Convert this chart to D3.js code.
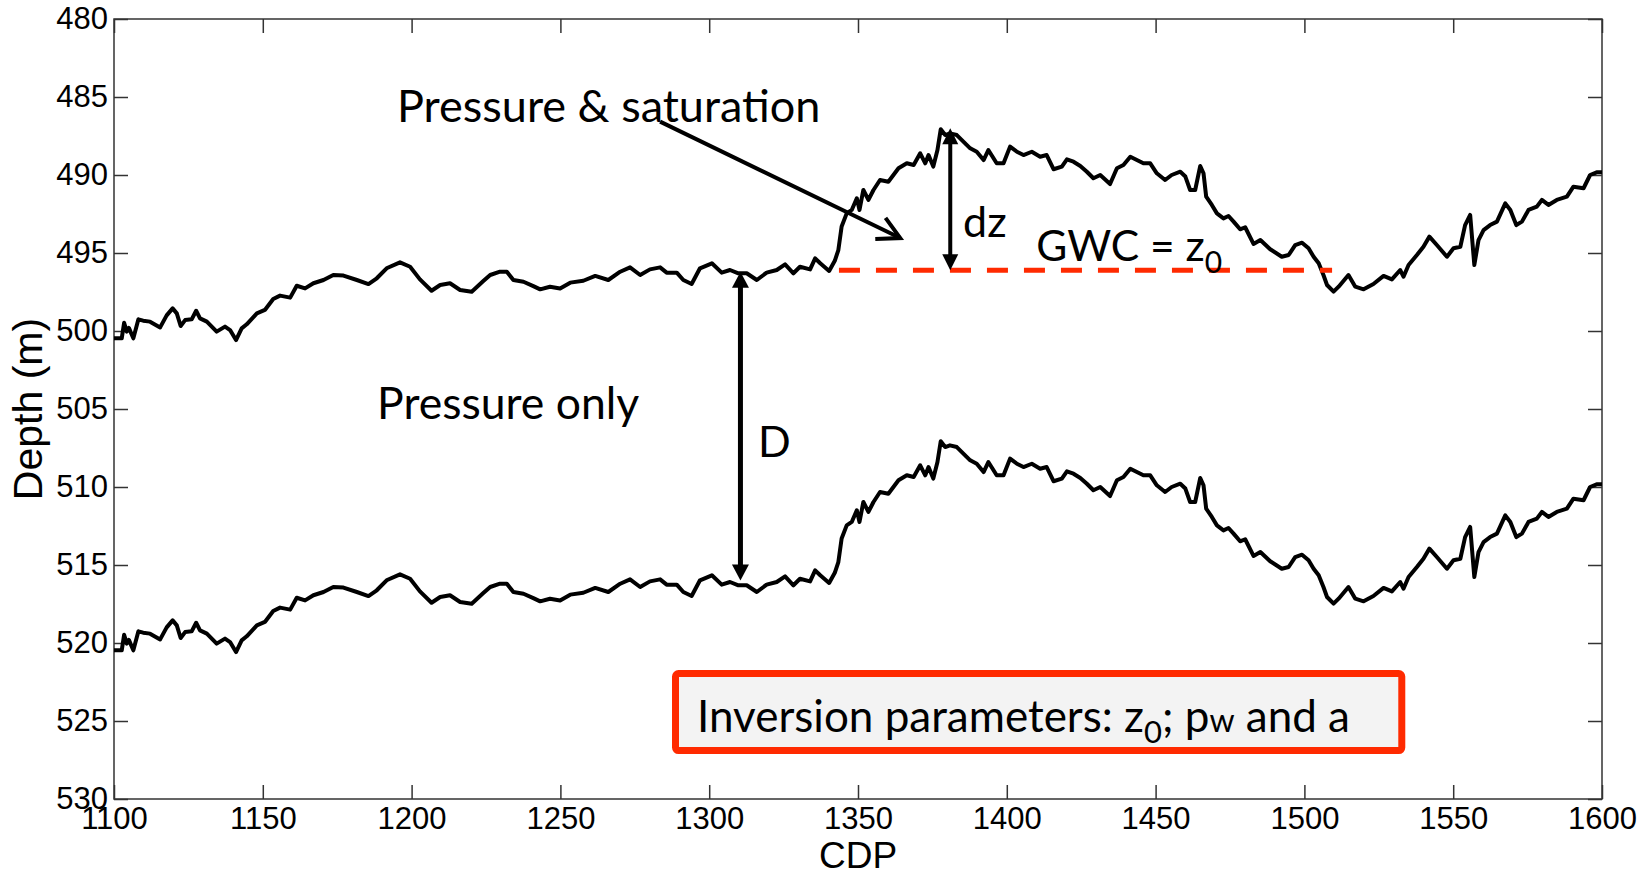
<!DOCTYPE html>
<html>
<head>
<meta charset="utf-8">
<script src="https://cdn.jsdelivr.net/npm/d3@7"></script>
<style>
  body { margin: 0; background: #fff; }
  .axis text { font-family: "Liberation Sans", Arial, sans-serif; font-size: 31px; fill: #000; }
  .axis line { stroke: #333; stroke-width: 1.5; }
  .axis-title { font-family: "Liberation Sans", Arial, sans-serif; font-size: 41px; fill: #000; }
  .note { font-family: Lato, "Open Sans", sans-serif; fill: #000; }
</style>
</head>
<body>
<div id="chart"></div>
<script>
'use strict';

// CDP positions of the picked horizon samples
var cdp = [
    1100.0, 1102.6, 1103.4, 1104.3, 1105.0, 1106.5, 1108.2, 1109.8, 1112.1, 1115.5,
    1117.7, 1119.7, 1121.1, 1122.4, 1123.9, 1126.1, 1127.6, 1128.9, 1131.2, 1134.5,
    1137.3, 1139.0, 1141.0, 1142.9, 1144.6, 1148.0, 1150.7, 1153.5, 1155.8, 1159.2,
    1161.4, 1164.2, 1167.0, 1170.4, 1173.7, 1177.1, 1181.6, 1185.5, 1188.3, 1191.6,
    1196.1, 1199.5, 1202.8, 1206.7, 1209.6, 1212.9, 1216.3, 1220.2, 1224.1, 1226.4,
    1229.7, 1232.0, 1234.2, 1237.6, 1240.9, 1243.2, 1246.5, 1249.9, 1253.3, 1257.7,
    1261.7, 1266.1, 1270.1, 1273.4, 1276.8, 1280.1, 1283.5, 1285.7, 1289.1, 1291.3,
    1294.1, 1296.9, 1300.9, 1304.2, 1307.0, 1309.8, 1312.6, 1316.0, 1319.3, 1322.7,
    1325.5, 1328.3, 1330.5, 1333.9, 1335.6, 1337.3, 1340.3, 1342.2, 1343.4, 1344.5,
    1346.2, 1347.9, 1349.6, 1350.5, 1351.8, 1353.5, 1355.2, 1357.4, 1360.2, 1363.6,
    1366.4, 1368.7, 1370.9, 1372.6, 1373.7, 1375.3, 1376.7, 1377.8, 1379.3, 1380.9,
    1383.2, 1384.9, 1387.7, 1389.9, 1392.2, 1393.8, 1396.6, 1398.9, 1401.1, 1403.4,
    1405.6, 1408.4, 1411.2, 1413.4, 1415.7, 1418.5, 1420.2, 1422.4, 1424.7, 1426.9,
    1429.1, 1431.4, 1434.7, 1437.0, 1439.2, 1441.5, 1443.7, 1445.9, 1448.2, 1450.4,
    1453.2, 1455.4, 1458.3, 1460.0, 1461.6, 1463.3, 1465.0, 1466.1, 1467.0, 1468.9,
    1470.6, 1472.8, 1474.5, 1476.2, 1478.4, 1480.1, 1482.9, 1485.2, 1488.5, 1492.4,
    1494.7, 1496.9, 1499.2, 1501.4, 1503.1, 1504.8, 1506.4, 1507.6, 1509.8, 1511.5,
    1514.8, 1517.1, 1519.9, 1523.2, 1526.6, 1529.4, 1532.2, 1533.3, 1535.0, 1537.8,
    1540.0, 1542.0, 1544.5, 1547.9, 1550.1, 1552.4, 1554.0, 1555.7, 1557.1, 1558.5,
    1560.2, 1562.4, 1564.7, 1567.5, 1569.2, 1571.2, 1573.1, 1575.3, 1578.1, 1579.8,
    1582.0, 1584.8, 1588.2, 1590.4, 1593.8, 1596.0, 1598.2, 1600.0
];

// reservoir top (m)
var topDepth = [
    500.47, 500.47, 499.47, 500.04, 499.80, 500.47, 499.25, 499.34, 499.40, 499.77,
    499.00, 498.55, 498.87, 499.68, 499.30, 499.25, 498.70, 499.19, 499.40, 500.04,
    499.72, 499.94, 500.58, 499.83, 499.57, 498.87, 498.65, 497.95, 497.73, 497.86,
    497.10, 497.27, 496.94, 496.73, 496.41, 496.45, 496.73, 496.99, 496.62, 495.98,
    495.60, 495.88, 496.69, 497.42, 497.05, 496.94, 497.37, 497.48, 496.80, 496.41,
    496.20, 496.20, 496.73, 496.84, 497.12, 497.33, 497.16, 497.27, 496.90, 496.78,
    496.47, 496.73, 496.20, 495.92, 496.41, 496.05, 495.92, 496.26, 496.26, 496.73,
    496.99, 495.98, 495.66, 496.26, 496.09, 496.30, 496.30, 496.73, 496.26, 496.09,
    495.73, 496.30, 495.88, 496.05, 495.34, 495.66, 496.15, 495.50, 494.81, 493.30,
    492.46, 492.24, 491.49, 492.24, 490.96, 491.60, 490.96, 490.32, 490.43, 489.57,
    489.25, 489.36, 488.61, 489.25, 488.72, 489.46, 488.40, 487.07, 487.44, 487.33,
    487.44, 487.76, 488.29, 488.51, 489.04, 488.40, 489.25, 489.25, 488.18, 488.51,
    488.72, 488.51, 488.83, 488.72, 489.63, 489.46, 489.00, 489.15, 489.42, 489.79,
    490.21, 490.00, 490.58, 489.57, 489.36, 488.83, 489.04, 489.25, 489.25, 489.89,
    490.32, 490.00, 489.79, 490.10, 490.96, 490.96, 489.42, 489.89, 491.39, 491.92,
    492.46, 492.78, 492.63, 492.99, 493.48, 493.35, 494.42, 494.17, 494.76, 495.24,
    495.13, 494.49, 494.34, 494.70, 495.24, 495.66, 496.41, 497.05, 497.48, 497.16,
    496.41, 497.16, 497.33, 496.99, 496.47, 496.69, 496.09, 496.52, 495.77, 495.13,
    494.60, 493.95, 494.49, 495.24, 494.70, 494.60, 493.21, 492.56, 495.77, 494.17,
    493.53, 493.21, 492.99, 491.82, 492.24, 493.21, 492.99, 492.24, 492.03, 491.60,
    491.92, 491.60, 491.39, 490.75, 490.85, 490.00, 489.83, 489.83
];

// reservoir base (m)
var baseDepth = [
    520.47, 520.47, 519.47, 520.04, 519.80, 520.47, 519.25, 519.34, 519.40, 519.77,
    519.00, 518.55, 518.87, 519.68, 519.30, 519.25, 518.70, 519.19, 519.40, 520.04,
    519.72, 519.94, 520.58, 519.83, 519.57, 518.87, 518.65, 517.95, 517.73, 517.86,
    517.10, 517.27, 516.94, 516.73, 516.41, 516.45, 516.73, 516.99, 516.62, 515.98,
    515.60, 515.88, 516.69, 517.42, 517.05, 516.94, 517.37, 517.48, 516.80, 516.41,
    516.20, 516.20, 516.73, 516.84, 517.12, 517.33, 517.16, 517.27, 516.90, 516.78,
    516.47, 516.73, 516.20, 515.92, 516.41, 516.05, 515.92, 516.26, 516.26, 516.73,
    516.99, 515.98, 515.66, 516.26, 516.09, 516.30, 516.30, 516.73, 516.26, 516.09,
    515.73, 516.30, 515.88, 516.05, 515.34, 515.66, 516.15, 515.50, 514.81, 513.30,
    512.46, 512.24, 511.49, 512.24, 510.96, 511.60, 510.96, 510.32, 510.43, 509.57,
    509.25, 509.36, 508.61, 509.25, 508.72, 509.46, 508.40, 507.07, 507.44, 507.33,
    507.44, 507.76, 508.29, 508.51, 509.04, 508.40, 509.25, 509.25, 508.18, 508.51,
    508.72, 508.51, 508.83, 508.72, 509.63, 509.46, 509.00, 509.15, 509.42, 509.79,
    510.21, 510.00, 510.58, 509.57, 509.36, 508.83, 509.04, 509.25, 509.25, 509.89,
    510.32, 510.00, 509.79, 510.10, 510.96, 510.96, 509.42, 509.89, 511.39, 511.92,
    512.46, 512.78, 512.63, 512.99, 513.48, 513.35, 514.42, 514.17, 514.76, 515.24,
    515.13, 514.49, 514.34, 514.70, 515.24, 515.66, 516.41, 517.05, 517.48, 517.16,
    516.41, 517.16, 517.33, 516.99, 516.47, 516.69, 516.09, 516.52, 515.77, 515.13,
    514.60, 513.95, 514.49, 515.24, 514.70, 514.60, 513.21, 512.56, 515.77, 514.17,
    513.53, 513.21, 512.99, 511.82, 512.24, 513.21, 512.99, 512.24, 512.03, 511.60,
    511.92, 511.60, 511.39, 510.75, 510.85, 510.00, 509.83, 509.83
];

var xTicks = [1100, 1150, 1200, 1250, 1300, 1350, 1400, 1450, 1500, 1550, 1600];
var yTicks = [480, 485, 490, 495, 500, 505, 510, 515, 520, 525, 530];

// gas-water contact
var gwcDepth = 496.1;
var gwcCdp = [1343.6, 1509.3];


drawChart();

function drawChart() {
    var width = 1651;
    var height = 876;
    var margin = { top: 19, right: 49, bottom: 77, left: 114 };
    var red = '#ff2a00';

    var x = d3.scaleLinear()
        .domain([1100, 1600])
        .range([margin.left, width - margin.right]);

    var y = d3.scaleLinear()
        .domain([480, 530])
        .range([margin.top, height - margin.bottom]);

    var svg = d3.select('#chart')
        .append('svg')
        .attr('width', width)
        .attr('height', height);

    // axes, ticks inward on all four sides (matlab box)
    var fmt = d3.format('d');
    svg.append('g')
        .attr('class', 'axis')
        .attr('transform', 'translate(0,' + y(530) + ')')
        .call(d3.axisBottom(x).tickValues(xTicks).tickSize(-14).tickPadding(8).tickFormat(fmt));
    svg.append('g')
        .attr('class', 'axis')
        .attr('transform', 'translate(' + x(1100) + ',0)')
        .call(d3.axisLeft(y).tickValues(yTicks).tickSize(-14).tickPadding(6).tickFormat(fmt));
    svg.append('g')
        .attr('class', 'axis')
        .attr('transform', 'translate(0,' + y(480) + ')')
        .call(d3.axisTop(x).tickValues(xTicks).tickSize(-14).tickFormat(''));
    svg.append('g')
        .attr('class', 'axis')
        .attr('transform', 'translate(' + x(1600) + ',0)')
        .call(d3.axisRight(y).tickValues(yTicks).tickSize(-14).tickFormat(''));
    svg.selectAll('.axis .domain').remove();

    svg.append('rect')
        .attr('x', x(1100))
        .attr('y', y(480))
        .attr('width', x(1600) - x(1100))
        .attr('height', y(530) - y(480))
        .attr('fill', 'none')
        .attr('stroke', '#333')
        .attr('stroke-width', 1.5);

    svg.append('text')
        .attr('class', 'axis-title')
        .attr('x', (x(1100) + x(1600)) / 2)
        .attr('y', 868)
        .attr('font-size', 37)
        .style('font-size', '37px')
        .attr('text-anchor', 'middle')
        .text('CDP');

    svg.append('text')
        .attr('class', 'axis-title')
        .attr('transform', 'translate(42,' + ((y(480) + y(530)) / 2) + ') rotate(-90)')
        .attr('text-anchor', 'middle')
        .text('Depth (m)');

    // horizons
    var line = d3.line()
        .x(function(d) { return x(d[0]); })
        .y(function(d) { return y(d[1]); });

    [topDepth, baseDepth].forEach(function(series) {
        svg.append('path')
            .datum(d3.zip(cdp, series))
            .attr('d', line)
            .attr('fill', 'none')
            .attr('stroke', '#000')
            .attr('stroke-width', 4)
            .attr('stroke-linejoin', 'round');
    });

    // GWC dashed line
    svg.append('line')
        .attr('x1', x(gwcCdp[0]))
        .attr('x2', x(gwcCdp[1]))
        .attr('y1', y(gwcDepth))
        .attr('y2', y(gwcDepth))
        .attr('stroke', red)
        .attr('stroke-width', 5)
        .attr('stroke-dasharray', '21,16');

    // arrows
    function head(tip, from, len, half) {
        var dx = tip[0] - from[0], dy = tip[1] - from[1];
        var l = Math.sqrt(dx * dx + dy * dy);
        var ux = dx / l, uy = dy / l;
        var bx = tip[0] - ux * len, by = tip[1] - uy * len;
        return [[tip[0], tip[1]], [bx - uy * half, by + ux * half], [bx + uy * half, by - ux * half]];
    }

    function doubleArrow(xc, d1, d2, w, len, half) {
        var p1 = [x(xc), y(d1)];
        var p2 = [x(xc), y(d2)];
        svg.append('line')
            .attr('x1', p1[0]).attr('y1', p1[1] + len - 2)
            .attr('x2', p2[0]).attr('y2', p2[1] - len + 2)
            .attr('stroke', '#000')
            .attr('stroke-width', w);
        [head(p1, p2, len, half), head(p2, p1, len, half)].forEach(function(pts) {
            svg.append('polygon')
                .attr('points', pts.map(function(p) { return p.join(','); }).join(' '))
                .attr('fill', '#000');
        });
    }

    doubleArrow(1310.5, 496.2, 516.0, 5, 16, 8.5);   // D
    doubleArrow(1381.0, 487.0, gwcDepth, 4, 16, 8);  // dz

    // pointer from "Pressure & saturation"
    var pFrom = [x(1283.5), y(486.58)];
    var pTo = [x(1364.2), y(494.04)];
    svg.append('line')
        .attr('x1', pFrom[0]).attr('y1', pFrom[1])
        .attr('x2', pTo[0]).attr('y2', pTo[1])
        .attr('stroke', '#000')
        .attr('stroke-width', 4);
    var ang = Math.atan2(pTo[1] - pFrom[1], pTo[0] - pFrom[0]);
    var arm = 25, spread = 28 * Math.PI / 180;
    svg.append('path')
        .attr('d', 'M' + (pTo[0] - arm * Math.cos(ang - spread)) + ',' + (pTo[1] - arm * Math.sin(ang - spread)) +
            'L' + pTo[0] + ',' + pTo[1] +
            'L' + (pTo[0] - arm * Math.cos(ang + spread)) + ',' + (pTo[1] - arm * Math.sin(ang + spread)))
        .attr('fill', 'none')
        .attr('stroke', '#000')
        .attr('stroke-width', 4);

    // labels
    var notes = [
        { text: 'Pressure & saturation', at: [1195.1, 486.58], size: 45 },
        { text: 'Pressure only', at: [1188.4, 505.64], size: 44.5 },
        { text: 'D', at: [1316.4, 508.08], size: 43 },
        { text: 'dz', at: [1385.3, 493.97], size: 43 }
    ];
    notes.forEach(function(n) {
        svg.append('text')
            .attr('class', 'note')
            .attr('x', x(n.at[0]))
            .attr('y', y(n.at[1]))
            .attr('font-size', n.size)
            .text(n.text);
    });

    var gwc = svg.append('text')
        .attr('class', 'note')
        .attr('x', x(1409.9))
        .attr('y', y(495.51))
        .attr('font-size', 42.5);
    gwc.append('tspan').text('GWC = z');
    gwc.append('tspan').attr('font-size', 30).attr('dy', 12).text('0');

    // inversion parameters box
    var box = { c0: 1287.5, c1: 1533.9, d0: 521.73, d1: 527.12 };
    var bw = 7;
    svg.append('rect')
        .attr('x', x(box.c0) + bw / 2)
        .attr('y', y(box.d0) + bw / 2)
        .attr('width', x(box.c1) - x(box.c0) - bw)
        .attr('height', y(box.d1) - y(box.d0) - bw)
        .attr('rx', 3)
        .attr('fill', '#f3f3f3')
        .attr('stroke', red)
        .attr('stroke-width', bw);

    var inv = svg.append('text')
        .attr('class', 'note')
        .attr('x', x(1295.9))
        .attr('y', y(525.69))
        .attr('font-size', 44);
    inv.append('tspan').text('Inversion parameters: z');
    inv.append('tspan').attr('font-size', 31).attr('dy', 11).text('0');
    inv.append('tspan').attr('dy', -11).text('; p');
    inv.append('tspan').attr('font-size', 32).text('w');
    inv.append('tspan').text(' and a');
}
</script>
</body>
</html>
